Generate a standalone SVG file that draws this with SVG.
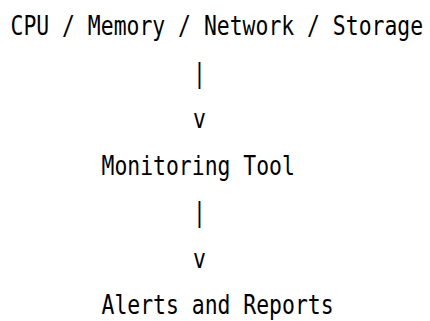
<svg xmlns="http://www.w3.org/2000/svg" width="430" height="321" viewBox="0 0 430 321">
<style>
text{font-family:"DejaVu Sans Mono","Liberation Mono",monospace;font-size:27px;fill:#000}
</style>
<rect width="430" height="321" fill="#fff"/>
<g id="source"><text transform="translate(10.5 35) scale(0.7937 1)">CPU / Memory / Network / Storage</text></g>
<g id="connectors">
<text transform="translate(193 81.5) scale(0.7937 1)">|</text>
<text transform="translate(193 128) scale(0.7937 1)">v</text>
<text transform="translate(193 221) scale(0.7937 1)">|</text>
<text transform="translate(193 267.5) scale(0.7937 1)">v</text>
</g>
<g id="monitoring"><text transform="translate(101.5 174.5) scale(0.7937 1)">Monitoring Tool</text></g>
<g id="alerts"><text transform="translate(101.5 314) scale(0.7937 1)">Alerts and Reports</text></g>
</svg>
